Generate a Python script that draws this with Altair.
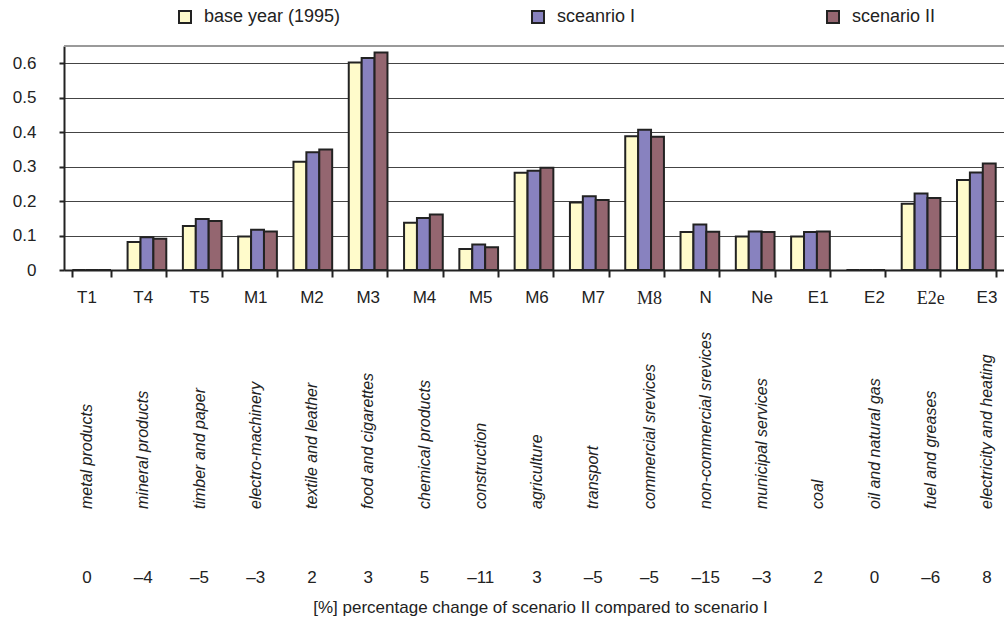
import altair as alt
import pandas as pd

codes = ["T1", "T4", "T5", "M1", "M2", "M3", "M4", "M5", "M6", "M7", "M8",
         "N", "Ne", "E1", "E2", "E2e", "E3"]
sectors = ["metal products", "mineral products", "timber and paper",
           "electro-machinery", "textile and leather", "food and cigarettes",
           "chemical products", "construction", "agriculture", "transport",
           "commercial srevices", "non-commercial srevices",
           "municipal services", "coal", "oil and natural gas",
           "fuel and greases", "electricity and heating"]
pct_change = ["0", "–4", "–5", "–3", "2", "3", "5", "–11", "3", "–5", "–5",
              "–15", "–3", "2", "0", "–6", "8"]
serif_codes = ["M8", "E2e"]

series = ["base year (1995)", "sceanrio I", "scenario II"]
base_1995 = [0, 0.081, 0.128, 0.097, 0.314, 0.602, 0.137, 0.061, 0.282, 0.196,
             0.388, 0.110, 0.097, 0.097, 0, 0.192, 0.261]
scenario_1 = [0, 0.095, 0.148, 0.117, 0.342, 0.615, 0.151, 0.074, 0.288, 0.214,
              0.407, 0.132, 0.112, 0.110, 0, 0.222, 0.283]
scenario_2 = [0, 0.091, 0.142, 0.112, 0.350, 0.631, 0.161, 0.066, 0.297, 0.203,
              0.387, 0.111, 0.110, 0.112, 0, 0.209, 0.309]
y_ticks = [0, 0.1, 0.2, 0.3, 0.4, 0.5, 0.6]
colors = ["#FFFBCB", "#8882BF", "#946670"]

FONT = "Liberation Sans"
INK = "#222222"

rows = []
for s, vals in zip(series, [base_1995, scenario_1, scenario_2]):
    for c, v in zip(codes, vals):
        rows.append({"code": c, "series": s, "value": v})
df = pd.DataFrame(rows)

labels = pd.DataFrame({"code": codes, "sector": sectors, "pct": pct_change})
top = pd.DataFrame({"value": [0.65]})

y_scale = alt.Scale(domain=[0, 0.65], nice=False, zero=True)
y_axis = alt.Axis(values=y_ticks,
                  labelExpr="datum.value == 0 ? '0' : format(datum.value, '.1f')",
                  tickSize=5, tickWidth=2, tickColor=INK,
                  labelPadding=23, labelFont=FONT, labelFontSize=17,
                  labelColor=INK, domainColor=INK, domainWidth=2,
                  labelOverlap=False,
                  grid=True, gridColor="#444444", gridWidth=1,
                  title=None)

bars = alt.Chart(df).mark_bar(stroke=INK, strokeWidth=2).encode(
    x=alt.X("code:N", sort=codes,
            scale=alt.Scale(paddingInner=0.3, paddingOuter=0.15),
            axis=alt.Axis(labels=False, tickBand="extent", tickSize=7,
                          tickWidth=2, tickColor=INK, domainColor=INK,
                          domainWidth=2, grid=False,
                          title="[%] percentage change of scenario II compared to scenario I",
                          titleFont=FONT, titleFontSize=17,
                          titleFontWeight="normal", titleColor=INK,
                          titleX=476, titleY=337, titleBaseline="middle",
                          titleAlign="center")),
    xOffset=alt.XOffset("series:N", sort=series,
                        scale=alt.Scale(paddingInner=0, paddingOuter=0)),
    y=alt.Y("value:Q", scale=y_scale, axis=y_axis),
    color=alt.Color("series:N", sort=series,
                    scale=alt.Scale(domain=series, range=colors),
                    legend=alt.Legend(orient="none", legendX=112, legendY=-38,
                                      direction="horizontal", title=None,
                                      symbolType="square", symbolSize=144,
                                      symbolStrokeColor=INK,
                                      symbolStrokeWidth=2,
                                      labelFont=FONT, labelFontSize=18,
                                      labelColor=INK, labelOffset=10,
                                      columnPadding=187, labelLimit=400)),
)

top_rule = alt.Chart(top).mark_rule(color="#9a9a9a", strokeWidth=2).encode(
    y=alt.Y("value:Q", scale=y_scale, axis=y_axis)
)

text_x = alt.X("code:N", sort=codes,
               scale=alt.Scale(type="point", domain=codes, range=[23, 923],
                               padding=0),
               axis=None)

code_text = alt.Chart(labels).transform_filter(
    alt.FieldOneOfPredicate(field="code", oneOf=[c for c in codes if c not in serif_codes])
).mark_text(font=FONT, fontSize=17, color=INK, baseline="middle").encode(
    x=text_x, y=alt.value(252), text="code:N"
)

code_text_serif = alt.Chart(labels).transform_filter(
    alt.FieldOneOfPredicate(field="code", oneOf=serif_codes)
).mark_text(font="Liberation Serif", fontSize=18, color=INK,
            baseline="middle").encode(
    x=text_x, y=alt.value(253), text="code:N"
)

sector_text = alt.Chart(labels).mark_text(
    font=FONT, fontSize=16, fontStyle="italic", color=INK, angle=270,
    align="left", baseline="middle"
).encode(x=text_x, y=alt.value(463), text="sector:N")

pct_text = alt.Chart(labels).mark_text(
    font=FONT, fontSize=17, color=INK, baseline="middle"
).encode(x=text_x, y=alt.value(532), text="pct:N")

chart = alt.layer(
    bars, top_rule, code_text, code_text_serif, sector_text, pct_text
).resolve_scale(x="independent").properties(
    width=940, height=224,
    padding={"left": 64, "top": 46, "right": 0, "bottom": 350},
    autosize=alt.AutoSizeParams(type="none"),
).configure_view(stroke=None)

chart.save("out.html", embed_options={"renderer": "svg", "actions": False})
